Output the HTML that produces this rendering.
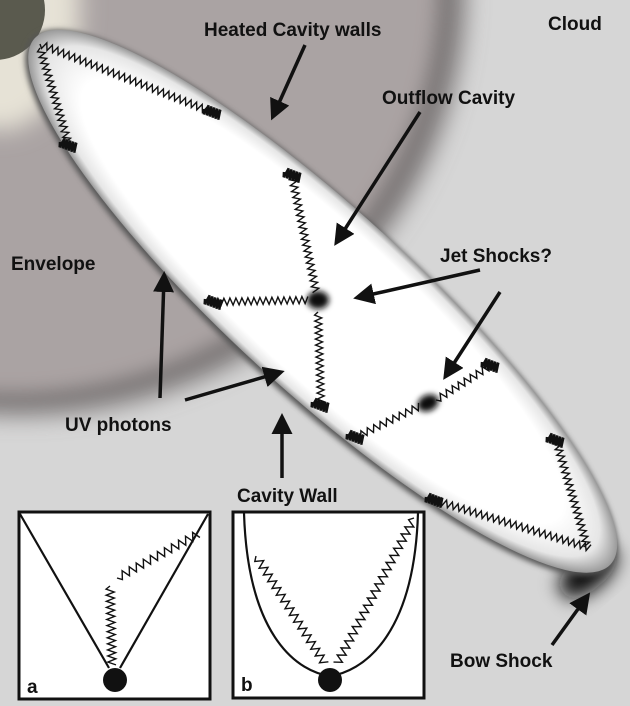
<!DOCTYPE html>
<html><head><meta charset="utf-8"><style>
html,body{margin:0;padding:0;background:#d5d5d5;}
svg{display:block;}
text{font-family:"Liberation Sans",Arial,sans-serif;font-weight:bold;fill:#111;}
</style></head><body>
<svg id="s" width="630" height="706" viewBox="0 0 630 706" xmlns="http://www.w3.org/2000/svg">
<defs>
<filter id="b8" x="-50%" y="-50%" width="200%" height="200%"><feGaussianBlur stdDeviation="9"/></filter>
<filter id="b3" x="-50%" y="-50%" width="200%" height="200%"><feGaussianBlur stdDeviation="3"/></filter>
<filter id="b12" x="-50%" y="-50%" width="200%" height="200%"><feGaussianBlur stdDeviation="12"/></filter>
<radialGradient id="eg" cx="0.5" cy="0.5" r="0.5">
<stop offset="0" stop-color="#fff"/><stop offset="0.82" stop-color="#fff"/><stop offset="0.94" stop-color="#e6e6e6"/><stop offset="1" stop-color="#9a9a9a"/>
</radialGradient>
<marker id="ah" markerWidth="6" markerHeight="6" refX="4" refY="3" orient="auto" markerUnits="strokeWidth">
<path d="M0,0 L6,3 L0,6 z" fill="#111"/></marker>
</defs>
<rect width="630" height="706" fill="#d6d6d6"/>
<ellipse cx="20" cy="-10" rx="445" ry="425" fill="#7a7676" filter="url(#b12)"/>
<ellipse cx="10" cy="-15" rx="428" ry="408" fill="#aaa3a3" filter="url(#b8)"/>
<ellipse cx="0" cy="10" rx="80" ry="120" fill="#e6e2d6" filter="url(#b12)"/>
<circle cx="-5" cy="10" r="50" fill="#5a5a4e"/>
<ellipse cx="588" cy="572" rx="34" ry="18" transform="rotate(-40 588 572)" fill="#111" filter="url(#b8)"/>
<g transform="rotate(42.4 322 302)">
<ellipse cx="322" cy="303" rx="392" ry="93" fill="#555" filter="url(#b3)"/>
<ellipse cx="322" cy="301" rx="390" ry="91" fill="url(#eg)"/>
</g>
<g id="w" fill="none" stroke="#111" stroke-width="1.4"></g>
<g fill="#111">
<ellipse cx="318" cy="300" rx="11" ry="9" filter="url(#b3)"/>
<ellipse cx="428" cy="403" rx="11" ry="8" transform="rotate(-25 428 403)" filter="url(#b3)"/>
</g>
<g stroke="#111" stroke-width="3.5" fill="none" marker-end="url(#ah)">
<line x1="305" y1="45" x2="274" y2="114"/>
<line x1="420" y1="112" x2="338" y2="240"/>
<line x1="480" y1="270" x2="360" y2="297"/>
<line x1="500" y1="292" x2="447" y2="374"/>
<line x1="160" y1="398" x2="164" y2="278"/>
<line x1="185" y1="400" x2="278" y2="373"/>
<line x1="282" y1="478" x2="282" y2="420"/>
<line x1="552" y1="645" x2="586" y2="598"/>
</g>
<text x="204" y="36" font-size="19">Heated Cavity walls</text>
<text x="548" y="30" font-size="19">Cloud</text>
<text x="382" y="104" font-size="19">Outflow Cavity</text>
<text x="11" y="270" font-size="19">Envelope</text>
<text x="440" y="262" font-size="19">Jet Shocks?</text>
<text x="65" y="431" font-size="19">UV photons</text>
<text x="237" y="502" font-size="19">Cavity Wall</text>
<text x="450" y="667" font-size="19">Bow Shock</text>
<rect x="19" y="512" width="191" height="187" fill="#fff" stroke="#111" stroke-width="3"/>
<rect x="233" y="512" width="191" height="186" fill="#fff" stroke="#111" stroke-width="3"/>
<g stroke="#111" stroke-width="2.2" fill="none">
<line x1="20" y1="514" x2="109" y2="668"/>
<line x1="208" y1="514" x2="120" y2="668"/>
<path d="M244,513 C248,640 300,672 330,676 C360,672 414,640 418,513"/>
</g>
<g id="w2" fill="none" stroke="#111" stroke-width="1.4"></g>
<circle cx="115" cy="680" r="12" fill="#111"/>
<circle cx="330" cy="680" r="12" fill="#111"/>
<text x="27" y="693" font-size="19">a</text>
<text x="241" y="691" font-size="19">b</text>
</svg>
<script>
function zz(x1,y1,x2,y2,amp,wl){
 var dx=x2-x1,dy=y2-y1,L=Math.hypot(dx,dy),ux=dx/L,uy=dy/L,px=-uy,py=ux;
 var n=Math.round(L/(wl/2)),d="M"+x1+","+y1;
 for(var i=1;i<=n;i++){var t=i*L/n,s=(i%2?1:-1)*amp;
  d+=" L"+(x1+ux*t+px*s).toFixed(1)+","+(y1+uy*t+py*s).toFixed(1);}
 return d;}
var NS="http://www.w3.org/2000/svg";
function add(g,s,w){var p=document.createElementNS(NS,"path");p.setAttribute("d",zz.apply(null,s));if(w)p.setAttribute("stroke-width",w);g.appendChild(p);}
var g=document.getElementById("w"),g2=document.getElementById("w2");
[[40,44,212,112,3.5,6],[40,48,68,142,3.5,6],[292,176,316,292,3.5,6],[212,302,308,300,3.5,6],
[318,312,321,405,3.5,6],[356,437,420,406,3.5,7],[436,400,490,366,3.5,7],[434,500,590,548,3.5,6],
[556,440,587,546,3.5,6]].forEach(function(s){add(g,s);});
[[110,586,112,665,4,6],[117,578,198,534,4,8],[256,556,325,664,4,8],[414,518,337,664,4,8]].forEach(function(s){add(g2,s);});
[[212,112],[68,145],[292,175],[213,302],[320,405],[355,437],[490,365],[434,500],[555,440]].forEach(function(c){
 add(g,[c[0]-8,c[1]-3,c[0]+8,c[1]+3,5,3],"2.5");});
</script>
</body></html>
